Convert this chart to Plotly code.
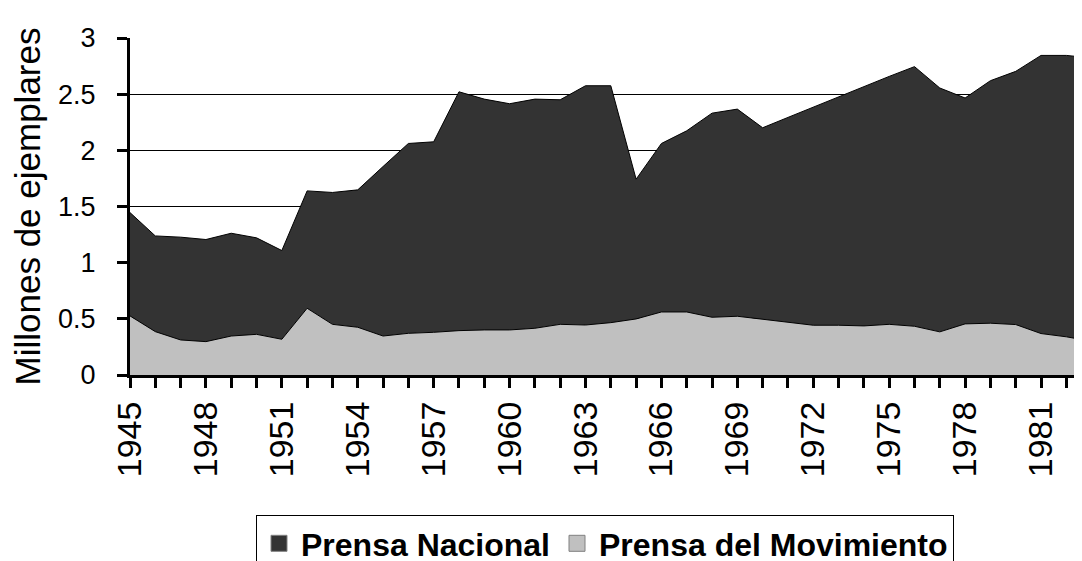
import plotly.graph_objects as go

years = list(range(1945, 1984))

prensa_movimiento = [
    0.526, 0.386, 0.312, 0.297, 0.347, 0.362, 0.318, 0.594, 0.451, 0.425,
    0.347, 0.371, 0.380, 0.395, 0.401, 0.401, 0.416, 0.451, 0.445, 0.466,
    0.499, 0.561, 0.561, 0.514, 0.523, 0.496, 0.466, 0.443, 0.443, 0.437,
    0.451, 0.434, 0.384, 0.455, 0.461, 0.449, 0.369, 0.340, 0.300,
]

prensa_nacional = [
    0.920, 0.852, 0.915, 0.909, 0.915, 0.859, 0.790, 1.045, 1.174, 1.223,
    1.509, 1.690, 1.696, 2.126, 2.055, 2.014, 2.040, 1.999, 2.130, 2.109,
    1.244, 1.500, 1.613, 1.817, 1.844, 1.705, 1.827, 1.942, 2.037, 2.132,
    2.207, 2.311, 2.171, 2.011, 2.159, 2.254, 2.476, 2.505, 2.522,
]

series_names = ["Prensa Nacional", "Prensa del Movimiento"]
y_title = "Millones de ejemplares"

FONT = "Liberation Sans, Arial, sans-serif"
DARK = "#333333"
LIGHT = "#C0C0C0"

fig = go.Figure()

fig.add_trace(go.Scatter(
    x=years, y=prensa_movimiento, name=series_names[1],
    stackgroup="one", mode="lines",
    line=dict(color="black", width=1), fillcolor=LIGHT,
    showlegend=False, hoverinfo="x+y",
))
fig.add_trace(go.Scatter(
    x=years, y=prensa_nacional, name=series_names[0],
    stackgroup="one", mode="lines",
    line=dict(color="black", width=1), fillcolor=DARK,
    showlegend=False, hoverinfo="x+y",
))

# legend swatches
for nm, col in [(series_names[0], DARK), (series_names[1], LIGHT)]:
    fig.add_trace(go.Scatter(
        x=[None], y=[None], mode="markers", name=nm,
        marker=dict(symbol="square", size=16, color=col,
                    line=dict(color="#808080", width=1)),
        showlegend=True,
    ))

W, H = 1082, 561
ML, MT = 122, 30
MB = H - 367.5
x_end = 1945 + (W - ML) / 25.306

fig.update_layout(
    width=W, height=H,
    margin=dict(l=ML, r=0, t=MT, b=MB, autoexpand=False),
    paper_bgcolor="white", plot_bgcolor="white",
    font=dict(family=FONT, color="black"),
    showlegend=True,
    legend=dict(
        orientation="h", x=597 / W, xanchor="center",
        y=1 - 507 / H, yanchor="top", yref="container", xref="container",
        font=dict(family=FONT, size=32, color="black", weight="bold"),
        bordercolor="black", borderwidth=1, bgcolor="white",
        itemsizing="trace", traceorder="normal", itemwidth=34,
    ),
    xaxis=dict(
        range=[1945, x_end], automargin=False,
        tickmode="linear", tick0=1945, dtick=3,
        tickangle=-90,
        ticks="outside", ticklen=10, tickwidth=3, tickcolor="black",
        tickfont=dict(family=FONT, size=34, color="black"),
        minor=dict(dtick=1, tick0=1945, ticks="outside", ticklen=10,
                   tickwidth=3, tickcolor="black", showgrid=False),
        showline=True, linecolor="black", linewidth=3,
        showgrid=False, zeroline=False,
    ),
    yaxis=dict(
        range=[0, 3], automargin=False,
        tickmode="linear", tick0=0, dtick=0.5,
        tickformat="~g",
        ticks="outside", ticklen=10, tickwidth=3, tickcolor="black",
        ticklabelstandoff=16,
        tickfont=dict(family=FONT, size=27, color="black"),
        showline=True, linecolor="black", linewidth=3,
        showgrid=True, gridcolor="black", gridwidth=1,
        zeroline=False,
        title=dict(text=y_title, font=dict(family=FONT, size=35, color="black"),
                   standoff=9),
    ),
)

fig.write_html("out.html")
